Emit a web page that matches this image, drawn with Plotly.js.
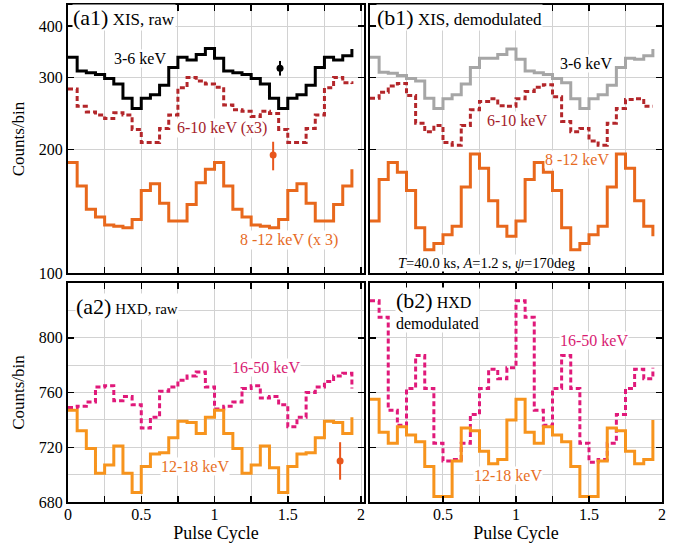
<!DOCTYPE html>
<html>
<head>
<meta charset="utf-8">
<script src="https://cdn.plot.ly/plotly-3.0.1.min.js"></script>
<style>html,body{margin:0;padding:0;background:#fff;}#chart{width:683px;height:545px;}</style>
</head>
<body>
<div id="chart"></div>
<script>
// Bin start phases (two pulse cycles, 16 bins each)
var phase = [0,0.0625,0.125,0.1875,0.25,0.3125,0.375,0.4375,0.5,0.5625,0.625,0.6875,0.75,0.8125,0.875,0.9375,
             1,1.0625,1.125,1.1875,1.25,1.3125,1.375,1.4375,1.5,1.5625,1.625,1.6875,1.75,1.8125,1.875,1.9375];

// (a1) XIS raw
var xisRaw_3_6  = [336,311,308,305,298,289,267,252,267,272,287,317,336,331,341,353,
                   334,311,308,305,298,289,267,252,267,272,287,317,336,331,339,352];
var xisRaw_6_10 = [281,255,247,243,238,246,243,224,208,208,225,243,283,300,294,289,
                   284,257,250,248,241,248,245,224,208,208,225,243,283,300,291,289];
var xisRaw_8_12 = [186,163,143,137,131,130,129,135,159,165,148,134,134,147,166,179,
                   186,163,143,137,131,130,129,135,159,165,148,134,134,147,163,179];

// (b1) XIS demodulated
var xisDem_3_6  = [336,309,307,303,298,294,267,252,266,272,289,317,334,334,341,352,
                   332,311,308,305,298,291,266,252,266,272,287,317,334,332,339,352];
var xisDem_6_10 = [267,276,286,290,271,232,221,229,208,205,229,250,262,266,256,255,
                   266,277,284,288,269,234,221,225,210,205,232,252,265,266,255,255];
var xisDem_8_12 = [134,169,186,176,159,129,114,118,124,130,162,195,180,150,130,123,
                   134,169,186,176,159,129,114,118,124,130,162,195,180,150,130,123];

// (a2) HXD raw
var hxdRaw_16_50 = [749,750,753,764,765,754,757,751,734,742,761,764,769,772,775,764,
                    748,750,753,763,765,756,757,751,735,742,760,764,768,772,774,763];
var hxdRaw_12_18 = [747,732,719,701,707,721,701,687,706,715,716,727,739,738,730,742,
                    747,730,719,701,707,721,705,687,706,715,716,727,739,738,730,742];

// (b2) HXD demodulated
var hxdDem_16_50 = [827,815,747,736,763,787,763,723,710,711,723,744,763,777,770,778,
                    827,815,747,736,763,787,763,723,709,711,723,744,763,777,770,778];
var hxdDem_12_18 = [755,731,723,735,729,724,706,684,684,710,734,732,717,708,711,740,
                    755,731,723,735,729,724,706,684,684,710,734,732,717,708,711,740];

// Typical error bars
var errA1x = [1.447, 1.40];
var errA1y = [316, 194];
var errA1up = [13, 15];
var errA1dn = [13, 16];
var errA2x = [1.857];
var errA2y = [710];
var errA2e = [13.7];

var C_BLACK = '#000000', C_GRAY = '#a6a6a6', C_RED = '#b3262a', C_OR1 = '#e8681c',
    C_OR2 = '#f7941d', C_PINK = '#e0197a', C_ERR = '#e8561c';

function step(x, y, xa, ya, color, dash) {
  return {x: x, y: y, xaxis: xa, yaxis: ya, type: 'scatter', mode: 'lines',
          line: {shape: 'hv', color: color, width: 3, dash: dash || 'solid'},
          hoverinfo: 'skip', showlegend: false};
}

var traces = [
  step(phase, xisRaw_3_6, 'x', 'y', C_BLACK),
  step(phase, xisRaw_6_10, 'x', 'y', C_RED, '5px,3px'),
  step(phase, xisRaw_8_12, 'x', 'y', C_OR1),
  {x: [errA1x[0]], y: [errA1y[0]], xaxis: 'x', yaxis: 'y', mode: 'markers', type: 'scatter',
   marker: {color: C_BLACK, size: 7}, showlegend: false,
   error_y: {type: 'data', symmetric: false, array: [errA1up[0]], arrayminus: [errA1dn[0]], color: C_BLACK, thickness: 2, width: 0}},
  {x: [errA1x[1]], y: [errA1y[1]], xaxis: 'x', yaxis: 'y', mode: 'markers', type: 'scatter',
   marker: {color: C_ERR, size: 7}, showlegend: false,
   error_y: {type: 'data', symmetric: false, array: [errA1up[1]], arrayminus: [errA1dn[1]], color: C_ERR, thickness: 2, width: 0}},

  step(phase, xisDem_3_6, 'x2', 'y2', C_GRAY),
  step(phase, xisDem_6_10, 'x2', 'y2', C_RED, '5px,3px'),
  step(phase, xisDem_8_12, 'x2', 'y2', C_OR1),

  step(phase, hxdRaw_16_50, 'x3', 'y3', C_PINK, '5px,3px'),
  step(phase, hxdRaw_12_18, 'x3', 'y3', C_OR2),
  {x: errA2x, y: errA2y, xaxis: 'x3', yaxis: 'y3', mode: 'markers', type: 'scatter',
   marker: {color: C_ERR, size: 7}, showlegend: false,
   error_y: {type: 'data', array: errA2e, color: C_ERR, thickness: 2, width: 0}},

  step(phase, hxdDem_16_50, 'x4', 'y4', C_PINK, '5px,3px'),
  step(phase, hxdDem_12_18, 'x4', 'y4', C_OR2)
];

var FONT = 'Liberation Serif, serif';
var xTickVals = [0,0.25,0.5,0.75,1,1.25,1.5,1.75,2];
var xTickTextL = ['0','','0.5','','1','','1.5','','2'];
var xTickTextR = ['','','0.5','','1','','1.5','','2'];

function baseAxis(extra) {
  var a = {showline: true, linecolor: 'black', linewidth: 2, mirror: 'allticks',
           ticks: 'inside', ticklen: 6, tickwidth: 1.5, tickcolor: 'black',
           showgrid: true, gridcolor: '#d2d2d2', gridwidth: 1, zeroline: false,
           tickfont: {family: FONT, size: 16, color: 'black'}, fixedrange: true};
  for (var k in extra) a[k] = extra[k];
  return a;
}

var LX = [0, 0.4983], RX = [0.5084, 1];
var TY = [0.4608, 1], BY = [0, 0.4406];
var logRange = [2, 2.6537];

var layout = {
  width: 683, height: 545,
  margin: {l: 68, r: 21, t: 5, b: 43},
  paper_bgcolor: 'white', plot_bgcolor: 'white',
  showlegend: false,
  font: {family: FONT, color: 'black'},
  xaxis: baseAxis({domain: LX, range: [0, 2.02], tickmode: 'array', tickvals: xTickVals, showticklabels: false, anchor: 'y'}),
  yaxis: baseAxis({domain: TY, type: 'log', range: logRange, tickmode: 'array', tickvals: [100,200,300,400], ticktext: ['100','200','300','400'], anchor: 'x',
                   title: {text: 'Counts/bin', font: {family: FONT, size: 17, color: 'black'}, standoff: 10}}),
  xaxis2: baseAxis({domain: RX, range: [0, 2.0], tickmode: 'array', tickvals: xTickVals, showticklabels: false, anchor: 'y2'}),
  yaxis2: baseAxis({domain: TY, type: 'log', range: logRange, tickmode: 'array', tickvals: [100,200,300,400], showticklabels: false, anchor: 'x2'}),
  xaxis3: baseAxis({domain: LX, range: [0, 2.02], tickmode: 'array', tickvals: xTickVals, ticktext: xTickTextL, anchor: 'y3', ticklabelstandoff: -3,
                    title: {text: 'Pulse Cycle', font: {family: FONT, size: 18, color: 'black'}, standoff: 2}}),
  yaxis3: baseAxis({domain: BY, range: [680, 840], tickmode: 'array', tickvals: [680,720,760,800], anchor: 'x3',
                    minor: {tickmode: 'array', tickvals: [700,740,780,820], showgrid: true, gridcolor: '#d2d2d2', gridwidth: 1, ticks: ''},
                    title: {text: 'Counts/bin', font: {family: FONT, size: 17, color: 'black'}, standoff: 10}}),
  xaxis4: baseAxis({domain: RX, range: [0, 2.0], tickmode: 'array', tickvals: xTickVals, ticktext: xTickTextR, anchor: 'y4', ticklabelstandoff: -3,
                    title: {text: 'Pulse Cycle', font: {family: FONT, size: 18, color: 'black'}, standoff: 2}}),
  yaxis4: baseAxis({domain: BY, range: [680, 840], tickmode: 'array', tickvals: [680,720,760,800], showticklabels: false, anchor: 'x4',
                    minor: {tickmode: 'array', tickvals: [700,740,780,820], showgrid: true, gridcolor: '#d2d2d2', gridwidth: 1, ticks: ''}}),
  annotations: []
};

function lab(text, xref, yref, x, y, color, size, xanchor, extra) {
  var a = {text: text, xref: xref, yref: yref, x: x, y: y, showarrow: false,
           font: {family: FONT, size: size, color: color}, xanchor: xanchor || 'center', yanchor: 'middle',
           bgcolor: 'white', borderpad: 0};
  for (var k in extra) a[k] = extra[k];
  layout.annotations.push(a);
}

// panel titles
lab('<span style="font-size:22px">(a1)</span> XIS, raw', 'x domain', 'y domain', 0.012, 0.955, 'black', 17, 'left');
lab('<span style="font-size:22px">(b1)</span> XIS, demodulated', 'x2 domain', 'y2 domain', 0.022, 0.955, 'black', 17, 'left');
lab('<span style="font-size:22px">(a2)</span> HXD, raw', 'x3 domain', 'y3 domain', 0.022, 0.895, 'black', 15, 'left');
lab('<span style="font-size:22px">(b2)</span> HXD<br>demodulated', 'x4 domain', 'y4 domain', 0.085, 0.875, 'black', 16, 'left', {align: 'left'});

// series labels (a1)
lab('3-6 keV', 'x', 'y', 0.49, Math.log10(334), 'black', 16);
lab('6-10 keV (x3)', 'x', 'y', 1.05, Math.log10(226), '#a51d2a', 16);
lab('8 -12 keV (x 3)', 'x', 'y', 1.51, Math.log10(120.5), '#e66b1f', 16);
// (b1)
lab('3-6 keV', 'x2', 'y2', 1.477, Math.log10(325), 'black', 16);
lab('6-10 keV', 'x2', 'y2', 1.009, Math.log10(236), '#a51d2a', 16);
lab('8 -12 keV', 'x2', 'y2', 1.415, Math.log10(189), '#e66b1f', 16);
lab('<i>T</i>=40.0 ks, <i>A</i>=1.2 s, <i>ψ</i>=170deg', 'x2', 'y2', 0.80, Math.log10(106), 'black', 14.5);
// (a2)
lab('16-50 keV', 'x3', 'y3', 1.352, 778, '#d81b72', 16);
lab('12-18 keV', 'x3', 'y3', 0.867, 706, '#e8701f', 16);
// (b2)
lab('16-50 keV', 'x4', 'y4', 1.532, 798, '#d81b72', 16);
lab('12-18 keV', 'x4', 'y4', 0.947, 699, '#e8701f', 16);

Plotly.newPlot('chart', traces, layout, {staticPlot: true, displayModeBar: false});
</script>
</body>
</html>
